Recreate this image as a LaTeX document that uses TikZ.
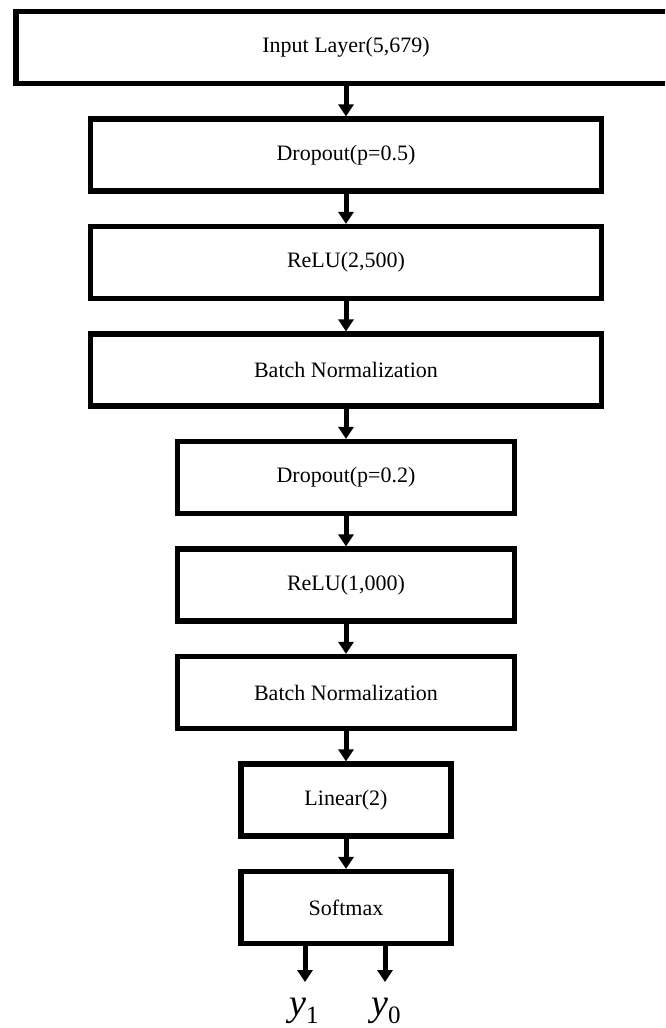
\documentclass[tikz,border=0pt]{standalone}
\usepackage{fontspec}
\setmainfont{Liberation Serif}
\usetikzlibrary{arrows.meta}

\tikzset{
  layer/.style={draw, line width=2.6pt, minimum height=36pt, inner sep=0pt,
    font=\fontsize{11}{13}\selectfont},
  flow/.style={line width=2.5pt, -{Triangle[width=7.5pt,length=6pt]}},
  outlabel/.style={anchor=base, inner sep=0pt, font=\fontsize{19}{22}\selectfont}
}
\newcommand{\outvar}[1]{\textit{y}\raisebox{-4pt}{\fontsize{12.5}{14}\selectfont #1}}

\begin{document}
\begin{tikzpicture}[x=0.5pt,y=-0.5pt]
\useasboundingbox (0,0) rectangle (665,1028);
\clip (0,0) rectangle (665,1028);

\node[layer, minimum width=330pt] (input) at (346,47.5) {Input Layer(5,679)};
\node[layer, minimum width=255.5pt] (drop1) at (346,155) {Dropout(p=0.5)};
\node[layer, minimum width=255.5pt] (relu1) at (346,262.5) {ReLU(2,500)};
\node[layer, minimum width=255.5pt] (bn1) at (346,370) {Batch Normalization};
\node[layer, minimum width=168.5pt] (drop2) at (346,477.5) {Dropout(p=0.2)};
\node[layer, minimum width=168.5pt] (relu2) at (346,585) {ReLU(1,000)};
\node[layer, minimum width=168.5pt] (bn2) at (346,692.5) {Batch Normalization};
\node[layer, minimum width=105pt] (linear) at (346,800) {Linear(2)};
\node[layer, minimum width=105pt] (softmax) at (346,907.5) {Softmax};

\draw[flow] (input)--(drop1);
\draw[flow] (drop1)--(relu1);
\draw[flow] (relu1)--(bn1);
\draw[flow] (bn1)--(drop2);
\draw[flow] (drop2)--(relu2);
\draw[flow] (relu2)--(bn2);
\draw[flow] (bn2)--(linear);
\draw[flow] (linear)--(softmax);

% outputs
\coordinate (out1) at (305,982);
\coordinate (out0) at (385,982);
\draw[flow] (softmax.south -| out1)--(out1);
\draw[flow] (softmax.south -| out0)--(out0);
\node[outlabel] (y1) at (304,1015) {\outvar{1}};
\node[outlabel] (y0) at (386,1015) {\outvar{0}};
\end{tikzpicture}
\end{document}
